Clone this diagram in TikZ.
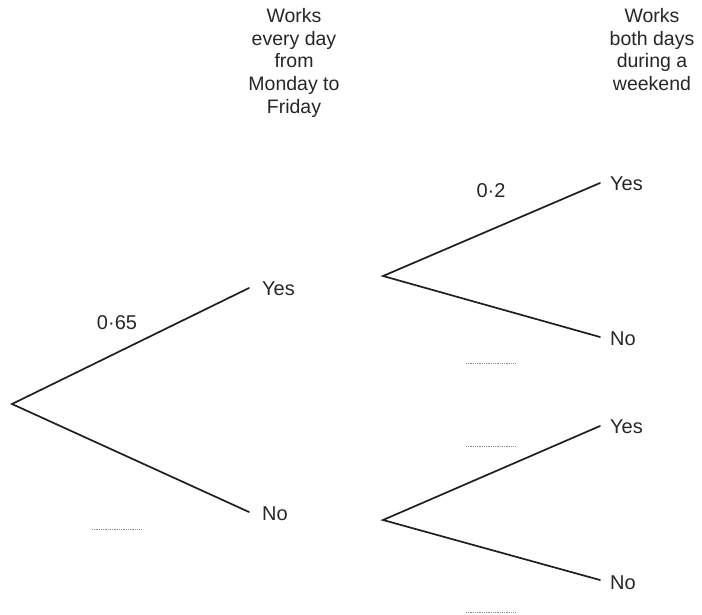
\documentclass[tikz,border=0pt]{standalone}
\usepackage{fontspec}
\setmainfont{Liberation Sans}
\begin{document}
\begin{tikzpicture}[x=1pt,y=-1pt,
  branch/.style={line width=1.7pt,draw=black!88,line cap=round},
  lbl/.style={font=\fontsize{20}{22}\selectfont,text=black!85,inner sep=0pt,anchor=base west},
  prob/.style={font=\fontsize{20}{22}\selectfont,text=black!85,inner sep=0pt,anchor=base},
  head/.style={font=\fontsize{19.5}{22.8}\selectfont,text=black!85,inner sep=0pt,align=center,anchor=north},
  blank/.style={draw=black!45,line width=0.8pt,dash pattern=on 0.9pt off 0.9pt}]
\useasboundingbox (0,0) rectangle (702,614);
% headers
\node[head] (h1) at (294,8) {Works\\every day\\from\\Monday to\\Friday};
\node[head] (h2) at (652,8) {Works\\both days\\during a\\weekend};
% first stage
\coordinate (r) at (12,404);
\coordinate (y1) at (249,288);
\coordinate (n1) at (249,512);
\draw[branch] (y1) -- (r) -- (n1);
\node[lbl] (ty1) at (262,295) {Yes};
\node[lbl] (tn1) at (262,520) {No};
\node[prob] (p1) at (117,329) {0·65};
\coordinate (b1a) at (92,529); \coordinate (b1b) at (142,529);
\draw[blank] (b1a) -- (b1b);
% second stage, upper
\coordinate (r2) at (383,276);
\coordinate (y2) at (600,183);
\coordinate (n2) at (600,337);
\draw[branch] (y2) -- (r2) -- (n2);
\node[lbl] (ty2) at (610,190) {Yes};
\node[lbl] (tn2) at (610,345) {No};
\node[prob] (p2) at (491,197) {0·2};
\coordinate (b2a) at (466,363); \coordinate (b2b) at (516,363);
\draw[blank] (b2a) -- (b2b);
% second stage, lower
\coordinate (r3) at (383,520);
\coordinate (y3) at (600,426);
\coordinate (n3) at (600,580);
\draw[branch] (y3) -- (r3) -- (n3);
\node[lbl] (ty3) at (610,433) {Yes};
\node[lbl] (tn3) at (610,589) {No};
\coordinate (b3a) at (466,446); \coordinate (b3b) at (516,446);
\draw[blank] (b3a) -- (b3b);
\coordinate (b4a) at (466,612); \coordinate (b4b) at (516,612);
\draw[blank] (b4a) -- (b4b);
\end{tikzpicture}
\end{document}
